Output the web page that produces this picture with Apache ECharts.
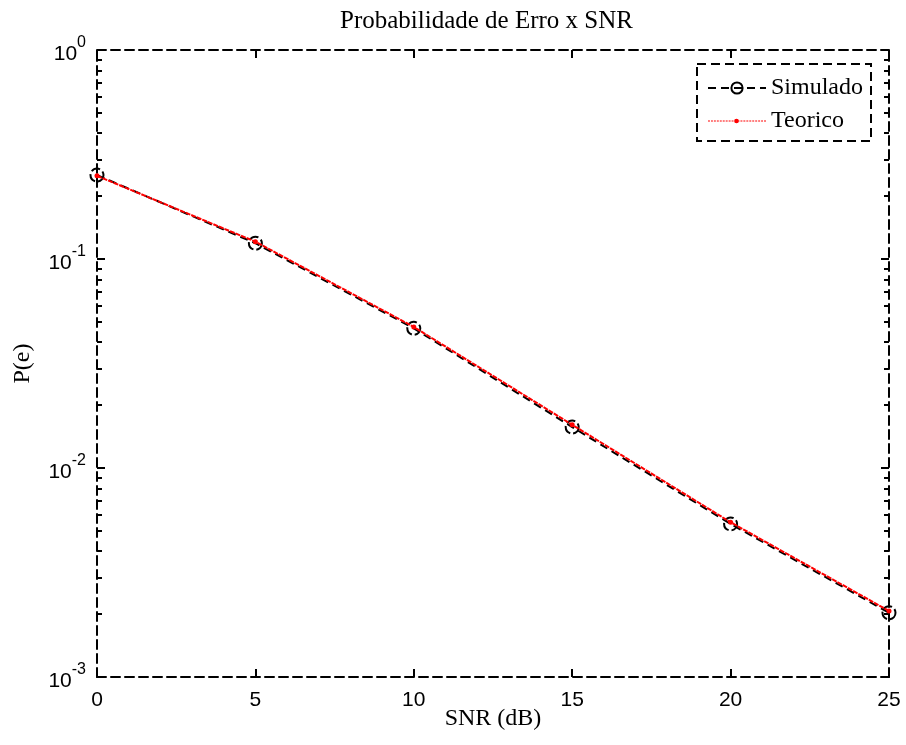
<!DOCTYPE html>
<html>
<head>
<meta charset="utf-8">
<script src="https://cdn.jsdelivr.net/npm/echarts@6/dist/echarts.min.js"></script>
<style>
  html, body { margin: 0; padding: 0; background: #fff; }
  #chart { width: 906px; height: 745px; }
</style>
</head>
<body>
<div id="chart"></div>
<script>
// dados
var snr = [0, 5, 10, 15, 20, 25];
var simulado = [0.252, 0.119, 0.0466, 0.0157, 0.0054, 0.00203];
var teorico = [0.250, 0.121, 0.0473, 0.0161, 0.0055, 0.00207];
var xTicks = [0, 5, 10, 15, 20, 25];
// ticks menores do eixo log (2..9 em cada decada), em expoente
var minorMult = [2, 3, 4, 5, 6, 7, 8, 9];
var decades = [-3, -2, -1];

var minorTicks = [];
for (var d = 0; d < decades.length; d++) {
	for (var k = 0; k < minorMult.length; k++) {
		minorTicks.push(decades[d] + Math.log10(minorMult[k]));
	}
}

var dash = [9, 5];
var serif = "'Liberation Serif', 'Times New Roman', serif";
var sans = "'Liberation Sans', Arial, sans-serif";

function pairs(xs, ys) {
	var out = [];
	for (var i = 0; i < xs.length; i++) out.push([xs[i], ys[i]]);
	return out;
}

// icone da legenda do teorico: linha pontilhada fina + ponto pequeno
var redIcon = 'path://M0,0 L0.01,0 Z M58,14 L58.01,14 Z';
for (var p = 0; p < 58; p += 3) {
	redIcon += ' M' + p + ',6.4 L' + (p + 2) + ',6.4 L' + (p + 2) + ',7.6 L' + p + ',7.6 Z';
}
redIcon += ' M29,4.6 A2.4,2.4 0 1 1 29,9.4 A2.4,2.4 0 1 1 29,4.6 Z';

var borderLine = { show: true, onZero: false, lineStyle: { color: '#000', width: 2, type: dash } };
var noLine = { show: false, onZero: false };

var option = {
	animation: false,
	backgroundColor: '#fff',
	title: {
		text: 'Probabilidade de Erro x SNR',
		left: 340, top: 9, padding: 0,
		textStyle: { fontFamily: serif, fontSize: 25, fontWeight: 'normal', color: '#000' }
	},
	legend: {
		orient: 'vertical',
		right: 35, top: 64,
		padding: [12, 8, 8, 10],
		itemGap: 9,
		itemWidth: 58, itemHeight: 14,
		borderColor: '#000', borderWidth: 2, borderType: dash,
		textStyle: { fontFamily: serif, fontSize: 24, color: '#000' },
		data: [{ name: 'Simulado' }, { name: 'Teorico', icon: redIcon }]
	},
	grid: { left: 97, right: 17, top: 50, bottom: 68, containLabel: false },
	xAxis: [{
		type: 'value', position: 'bottom', min: 0, max: 25, interval: 5,
		name: 'SNR (dB)', nameLocation: 'middle', nameGap: 30, nameMoveOverlap: false,
		nameTextStyle: { fontFamily: serif, fontSize: 24, color: '#000' },
		axisLine: borderLine,
		axisTick: { inside: true, length: 8, lineStyle: { color: '#000', width: 2 } },
		axisLabel: { fontFamily: sans, fontSize: 21, color: '#000', margin: 13 },
		splitLine: { show: false }
	}, {
		type: 'value', position: 'top', min: 0, max: 25, interval: 5,
		axisLine: borderLine,
		axisTick: { inside: true, length: 8, lineStyle: { color: '#000', width: 2 } },
		axisLabel: { show: false },
		splitLine: { show: false }
	}],
	yAxis: [{
		type: 'log', logBase: 10, position: 'left', min: 0.001, max: 1,
		name: 'P(e)', nameLocation: 'middle', nameGap: 62, nameRotate: 90,
		nameTextStyle: { fontFamily: serif, fontSize: 24, color: '#000' },
		axisLine: borderLine,
		axisTick: { inside: true, length: 8, lineStyle: { color: '#000', width: 2 } },
		axisLabel: {
			margin: 11,
			formatter: function (v) {
				return '{b|10}{s|' + Math.round(Math.log10(v)) + '}';
			},
			rich: {
				b: { fontFamily: sans, fontSize: 21, color: '#000', lineHeight: 30, verticalAlign: 'bottom', padding: [8, 0, 0, 0] },
				s: { fontFamily: sans, fontSize: 16, color: '#000', lineHeight: 30, verticalAlign: 'top' }
			}
		},
		splitLine: { show: false }
	}, {
		type: 'value', position: 'left', min: -3, max: 0,
		axisLine: noLine,
		axisTick: { inside: true, length: 5, customValues: minorTicks, lineStyle: { color: '#000', width: 2 } },
		axisLabel: { show: false },
		splitLine: { show: false }
	}, {
		type: 'log', logBase: 10, position: 'right', min: 0.001, max: 1,
		axisLine: borderLine,
		axisTick: { inside: true, length: 8, lineStyle: { color: '#000', width: 2 } },
		axisLabel: { show: false },
		splitLine: { show: false }
	}, {
		type: 'value', position: 'right', min: -3, max: 0,
		axisLine: noLine,
		axisTick: { inside: true, length: 5, customValues: minorTicks, lineStyle: { color: '#000', width: 2 } },
		axisLabel: { show: false },
		splitLine: { show: false }
	}],
	series: [{
		name: 'Simulado',
		type: 'line',
		xAxisIndex: 0, yAxisIndex: 0,
		data: pairs(snr, simulado),
		symbol: 'circle', symbolSize: 13,
		lineStyle: { color: '#000', width: 2, type: [8, 5] },
		itemStyle: { color: 'transparent', borderColor: '#000', borderWidth: 2, borderType: [9, 3] },
		z: 2
	}, {
		name: 'Teorico',
		type: 'line',
		xAxisIndex: 0, yAxisIndex: 0,
		data: pairs(snr, teorico),
		symbol: 'circle', symbolSize: 5,
		lineStyle: { color: '#ff0000', width: 2, type: [5, 1] },
		itemStyle: { color: '#ff0000', borderWidth: 0 },
		z: 3
	}]
};

var myChart = echarts.init(document.getElementById('chart'), null, { renderer: 'canvas' });
myChart.setOption(option);
</script>
</body>
</html>
